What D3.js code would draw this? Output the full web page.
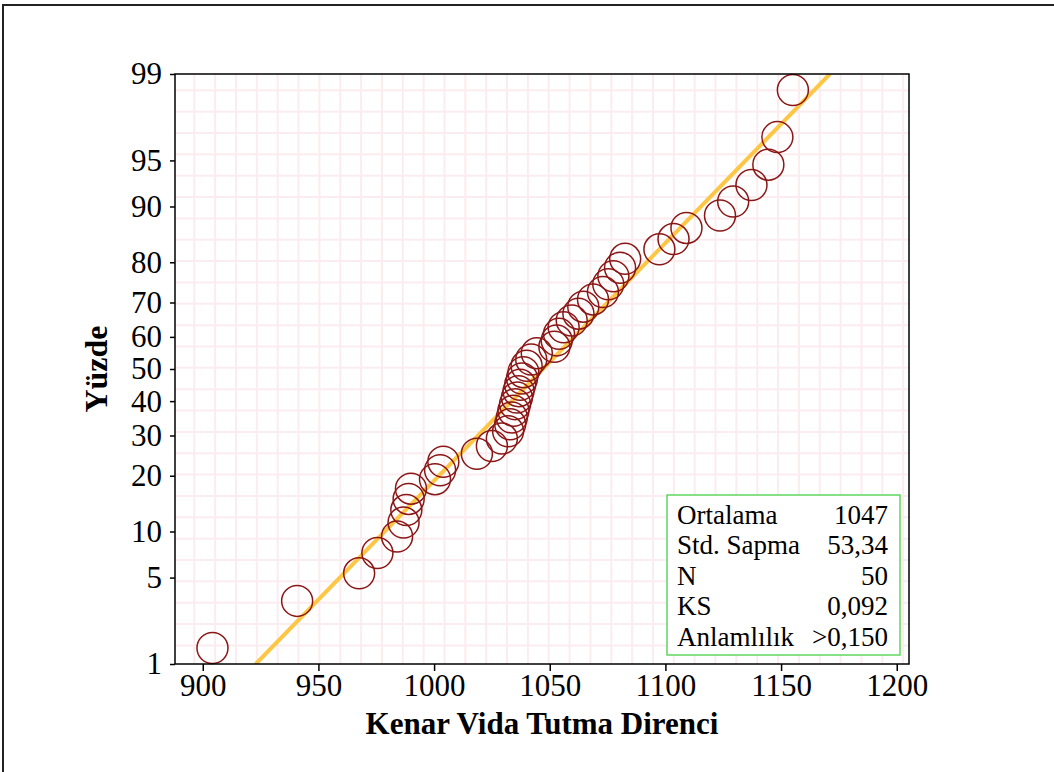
<!DOCTYPE html>
<html>
<head>
<meta charset="utf-8">
<script src="https://cdn.jsdelivr.net/npm/d3@7"></script>
<style>
  body { margin: 0; background: #fff; }
  svg { display: block; }
  text { font-family: "Liberation Serif", "Times New Roman", serif; fill: #000; }
</style>
</head>
<body>
<div id="chart"></div>
<script>
// Normal probability plot - Kenar Vida Tutma Direnci

const values = [
  904.2, 940.8, 967.6, 975.5, 984.0, 986.8, 988.0, 989.0, 990.0, 1000.4,
  1002.6, 1004.0, 1018.5, 1025.0, 1029.3, 1032.0, 1032.9, 1033.6, 1034.3, 1035.0,
  1035.8, 1036.5, 1037.2, 1038.0, 1038.6, 1040.0, 1042.0, 1044.4, 1052.0, 1053.0,
  1054.0, 1056.0, 1059.5, 1062.4, 1064.5, 1068.7, 1073.0, 1075.3, 1077.5, 1080.4,
  1082.6, 1097.4, 1103.5, 1109.1, 1123.6, 1129.3, 1137.2, 1144.5, 1148.4, 1155.1
];
const xTicks = [900, 950, 1000, 1050, 1100, 1150, 1200];
const yTicks = [1, 5, 10, 20, 30, 40, 50, 60, 70, 80, 90, 95, 99];
const statLabels = ['Ortalama', 'Std. Sapma', 'N', 'KS', 'Anlamlılık'];
const statValues = ['1047', '53,34', '50', '0,092', '>0,150'];
const fitMean = 1047;
const fitSd = 53.34;

// inverse normal CDF (Acklam)
function probit(p) {
    const a = [-3.969683028665376e+01, 2.209460984245205e+02, -2.759285104469687e+02, 1.383577518672690e+02, -3.066479806614716e+01, 2.506628277459239e+00];
    const b = [-5.447609879822406e+01, 1.615858368580409e+02, -1.556989798598866e+02, 6.680131188771972e+01, -1.328068155288572e+01];
    const c = [-7.784894002430293e-03, -3.223964580411365e-01, -2.400758277161838e+00, -2.549732539343734e+00, 4.374664141464968e+00, 2.938163982698783e+00];
    const d = [7.784695709041462e-03, 3.224671290700398e-01, 2.445134137142996e+00, 3.754408661907416e+00];
    const pl = 0.02425;
    if (p < pl) {
        const q = Math.sqrt(-2 * Math.log(p));
        return (((((c[0]*q+c[1])*q+c[2])*q+c[3])*q+c[4])*q+c[5]) / ((((d[0]*q+d[1])*q+d[2])*q+d[3])*q+1);
    }
    if (p <= 1 - pl) {
        const q = p - 0.5, r = q * q;
        return (((((a[0]*r+a[1])*r+a[2])*r+a[3])*r+a[4])*r+a[5])*q / (((((b[0]*r+b[1])*r+b[2])*r+b[3])*r+b[4])*r+1);
    }
    const q = Math.sqrt(-2 * Math.log(1 - p));
    return -(((((c[0]*q+c[1])*q+c[2])*q+c[3])*q+c[4])*q+c[5]) / ((((d[0]*q+d[1])*q+d[2])*q+d[3])*q+1);
}

const W = 1054, H = 772;
const plot = {left: 175, top: 74, right: 909, bottom: 664};

const svg = d3.select('#chart').append('svg')
    .attr('width', W)
    .attr('height', H);

// outer frame (cut off at right and bottom)
svg.append('path')
    .attr('d', `M3,${H} V5 H${W}`)
    .attr('fill', 'none')
    .attr('stroke', '#222')
    .attr('stroke-width', 2);

// scales
const x = d3.scaleLinear()
    .domain([888, 1205.3])
    .range([plot.left, plot.right]);

const zMax = probit(0.99);
const y = d3.scaleLinear()
    .domain([-zMax, zMax])
    .range([plot.bottom, plot.top]);

// background grid pattern
const grid = svg.append('g');
grid.selectAll('.gv')
    .data(d3.range(plot.left + 19.3, plot.right, 20.85))
    .enter().append('line')
    .attr('x1', d => d).attr('x2', d => d)
    .attr('y1', plot.top).attr('y2', plot.bottom)
    .attr('stroke', '#fbecef').attr('stroke-width', 2);
grid.selectAll('.gh')
    .data(d3.range(plot.top + 16.3, plot.bottom, 21.35))
    .enter().append('line')
    .attr('y1', d => d).attr('y2', d => d)
    .attr('x1', plot.left).attr('x2', plot.right)
    .attr('stroke', '#fbecef').attr('stroke-width', 2);

// fitted line
svg.append('clipPath').attr('id', 'clip')
    .append('rect')
    .attr('x', plot.left).attr('y', plot.top)
    .attr('width', plot.right - plot.left).attr('height', plot.bottom - plot.top);

svg.append('line')
    .attr('clip-path', 'url(#clip)')
    .attr('x1', x(fitMean - zMax * fitSd)).attr('y1', y(-zMax))
    .attr('x2', x(fitMean + zMax * fitSd)).attr('y2', y(zMax))
    .attr('stroke', '#fdc745')
    .attr('stroke-width', 4);

// points (median rank plotting positions)
const n = values.length;
svg.selectAll('.pt')
    .data(values)
    .enter().append('circle')
    .attr('class', 'pt')
    .attr('cx', d => x(d))
    .attr('cy', (d, i) => y(probit((i + 1 - 0.3) / (n + 0.4))))
    .attr('r', 15.5)
    .attr('fill', 'none')
    .attr('stroke', '#8b1616')
    .attr('stroke-width', 1.5);

// plot frame
svg.append('rect')
    .attr('x', plot.left).attr('y', plot.top)
    .attr('width', plot.right - plot.left).attr('height', plot.bottom - plot.top)
    .attr('fill', 'none')
    .attr('stroke', '#000')
    .attr('stroke-width', 1.5);

// axes
const yAxis = svg.append('g')
    .attr('transform', `translate(${plot.left},0)`)
    .call(d3.axisLeft(y)
        .tickValues(yTicks.map(p => probit(p / 100)))
        .tickFormat((d, i) => yTicks[i])
        .tickSize(5)
        .tickPadding(8));
const xAxis = svg.append('g')
    .attr('transform', `translate(0,${plot.bottom})`)
    .call(d3.axisBottom(x)
        .tickValues(xTicks)
        .tickFormat(d3.format('d'))
        .tickSize(7)
        .tickPadding(3));

[yAxis, xAxis].forEach(ax => {
    ax.select('.domain').remove();
    ax.selectAll('.tick line').attr('stroke', '#000').attr('stroke-width', 1.5);
    ax.selectAll('.tick text')
        .style('font-family', '"Liberation Serif", "Times New Roman", serif')
        .style('font-size', '31px')
        .attr('fill', '#000');
});

// axis titles
svg.append('text')
    .attr('x', (plot.left + plot.right) / 2)
    .attr('y', 734)
    .attr('text-anchor', 'middle')
    .style('font-size', '31px')
    .style('font-weight', 'bold')
    .text('Kenar Vida Tutma Direnci');

svg.append('text')
    .attr('transform', `translate(107,${(plot.top + plot.bottom) / 2}) rotate(-90)`)
    .attr('text-anchor', 'middle')
    .style('font-size', '32px')
    .style('font-weight', 'bold')
    .text('Yüzde');

// statistics box
const box = svg.append('g');
box.append('rect')
    .attr('x', 667).attr('y', 495)
    .attr('width', 233).attr('height', 160)
    .attr('fill', '#fff')
    .attr('stroke', '#5fd85f')
    .attr('stroke-width', 1.5);

statLabels.forEach((lab, i) => {
    box.append('text')
        .attr('x', 677).attr('y', 524 + i * 30.4)
        .style('font-size', '27px')
        .text(lab);
    box.append('text')
        .attr('x', 888).attr('y', 524 + i * 30.4)
        .attr('text-anchor', 'end')
        .style('font-size', '27px')
        .text(statValues[i]);
});
</script>
</body>
</html>
